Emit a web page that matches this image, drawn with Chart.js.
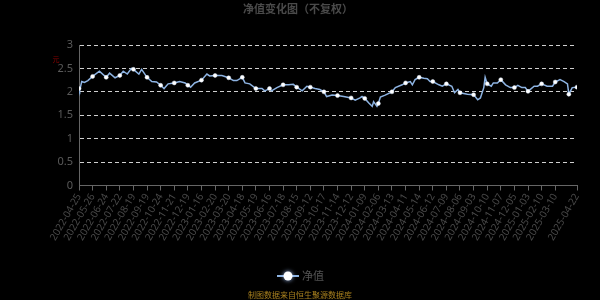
<!DOCTYPE html>
<html><head><meta charset="utf-8">
<script src="https://cdn.jsdelivr.net/npm/chart.js@4"></script>
<style>html,body{margin:0;padding:0;background:#000;}#wrap{width:600px;height:300px;}</style>
</head><body><div id="wrap"><canvas id="c" width="600" height="300"></canvas></div>
<script>
const dayIndex = [0,1,4,8,13,20,30,40,45,53,60,65,71,77,80,88,92,100,107,114,120,125,131,140,148,156,160,164,170,180,188,192,200,210,220,227,232,240,244,251,260,269,273,280,283,291,300,308,315,320,328,335,340,347,354,360,364,372,380,389,400,406,413,416,420,426,431,433,438,440,443,450,460,465,475,480,487,490,494,500,507,512,516,520,529,534,540,548,552,557,560,571,580,586,590,595,597,600,606,609,615,620,627,634,640,645,651,656,660,669,674,680,688,696,700,707,713,718,720,725,732];
const nav = [2.07,2.03,2.22,2.20,2.24,2.33,2.44,2.31,2.40,2.30,2.35,2.44,2.38,2.50,2.48,2.38,2.48,2.31,2.22,2.21,2.14,2.07,2.17,2.19,2.22,2.19,2.14,2.10,2.19,2.25,2.38,2.34,2.35,2.35,2.30,2.24,2.24,2.31,2.19,2.17,2.07,2.07,2.02,2.07,2.02,2.09,2.15,2.15,2.16,2.10,2.02,2.12,2.10,2.07,2.05,2.00,1.90,1.93,1.92,1.90,1.87,1.82,1.87,1.90,1.86,1.76,1.69,1.79,1.69,1.75,1.89,1.93,2.00,2.09,2.15,2.19,2.22,2.15,2.26,2.31,2.29,2.28,2.22,2.22,2.15,2.12,2.17,2.12,1.98,2.05,1.98,1.95,1.94,1.83,1.87,2.09,2.31,2.17,2.12,2.19,2.19,2.26,2.15,2.09,2.09,2.14,2.09,2.09,2.01,2.12,2.12,2.17,2.12,2.12,2.21,2.26,2.22,2.17,1.95,2.09,2.10];
const tickIndex = [0,20,40,60,80,100,120,140,160,180,200,220,240,260,280,300,320,340,360,380,400,420,440,460,480,500,520,540,560,580,600,620,640,660,680,700,732];
const tickLabels = ['2022-04-25','2022-05-26','2022-06-24','2022-07-22','2022-08-19','2022-09-19','2022-10-24','2022-11-21','2022-12-19','2023-01-16','2023-02-20','2023-03-20','2023-04-18','2023-05-19','2023-06-16','2023-07-18','2023-08-15','2023-09-12','2023-10-17','2023-11-14','2023-12-12','2024-01-09','2024-02-06','2024-03-13','2024-04-11','2024-05-14','2024-06-12','2024-07-09','2024-08-06','2024-09-03','2024-10-10','2024-11-07','2024-12-05','2025-01-03','2025-02-10','2025-03-10','2025-04-22'];
const symbolIndex = [0,20,40,60,80,100,120,140,160,180,200,220,240,260,280,300,320,340,360,380,400,420,440,460,480,500,520,540,560,580,600,620,640,660,680,700,720,732];
const yTicks = [0,0.5,1,1.5,2,2.5,3];
const yTickLabels = ['0','0.5','1','1.5','2','2.5','3'];
const seriesName = '净值';
const titleText = '净值变化图（不复权）';
const sourceText = '制图数据来自恒生聚源数据库';

const LINE = '#8db3e2';
const points = dayIndex.map((d,i)=>({x:d,y:nav[i]}));
const labelMap = {}; tickIndex.forEach((v,i)=>labelMap[v]=tickLabels[i]);
const yLabelMap = {}; yTicks.forEach((v,i)=>yLabelMap[v]=yTickLabels[i]);
const symSet = new Set(symbolIndex);

const extras = {
  id:'extras',
  afterDraw(chart){
    const ctx = chart.ctx;
    ctx.save();
    ctx.fillStyle = '#4a4a4a';
    ctx.font = 'bold 11px "Noto Sans CJK SC", sans-serif';
    ctx.textAlign = 'center'; ctx.textBaseline = 'middle';
    ctx.fillText(titleText, 298, 9);
    ctx.fillStyle = '#8b0000';
    ctx.font = '7px "Noto Sans CJK SC", sans-serif';
    ctx.fillText('元', 56, 59);
    ctx.strokeStyle = LINE; ctx.lineWidth = 2;
    ctx.beginPath(); ctx.moveTo(277,276); ctx.lineTo(299,276); ctx.stroke();
    ctx.shadowColor = 'rgba(170,200,255,0.9)'; ctx.shadowBlur = 4;
    ctx.fillStyle = '#ffffff';
    ctx.beginPath(); ctx.arc(288,276,4.5,0,Math.PI*2); ctx.fill();
    ctx.shadowBlur = 0;
    ctx.fillStyle = '#555';
    ctx.font = '11px "Noto Sans CJK SC", sans-serif';
    ctx.textAlign = 'left';
    ctx.fillText(seriesName, 302, 276);
    ctx.fillStyle = '#a8801e';
    ctx.font = '8px "Noto Sans CJK SC", sans-serif';
    ctx.textAlign = 'center';
    ctx.fillText(sourceText, 300, 295);
    ctx.restore();
  }
};

new Chart(document.getElementById('c'), {
  type:'line',
  data:{datasets:[{
    label: seriesName,
    data: points,
    borderColor: LINE,
    borderWidth: 1.5,
    tension: 0,
    pointRadius: c => symSet.has(c.raw && c.raw.x) ? 2 : 0,
    pointHoverRadius: 0,
    pointBackgroundColor: '#ffffff',
    pointBorderColor: '#dce8f8',
    pointBorderWidth: 0.5
  }]},
  options:{
    responsive:false,
    animation:false,
    layout:{padding:{left:0,right:23,top:45,bottom:0}},
    plugins:{legend:{display:false},title:{display:false},tooltip:{enabled:false}},
    scales:{
      x:{
        type:'linear', min:0, max:732,
        afterBuildTicks: s => { s.ticks = tickIndex.map(v=>({value:v})); },
        afterFit: s => { s.height = 114.5; },
        ticks:{
          autoSkip:false, minRotation:60, maxRotation:60, padding:1,
          color:'#4a4a4a', font:{size:10, family:'"Noto Sans", sans-serif'},
          callback: v => labelMap[v] || ''
        },
        grid:{drawOnChartArea:false, color:'#666', tickLength:5},
        border:{color:'#666', width:1}
      },
      y:{
        min:0, max:3,
        afterBuildTicks: s => { s.ticks = yTicks.map(v=>({value:v})); },
        afterFit: s => { s.width = 79; },
        ticks:{color:'#5a5a5a', padding:6, font:{size:11, family:'"Noto Sans", sans-serif'},
          callback: v => yLabelMap[v] ?? ''},
        grid:{color:'#cfcfcf', lineWidth:1, tickLength:0, drawTicks:false},
        border:{color:'#666', width:1, dash:[4,3]}
      }
    }
  },
  plugins:[extras]
});
</script></body></html>
